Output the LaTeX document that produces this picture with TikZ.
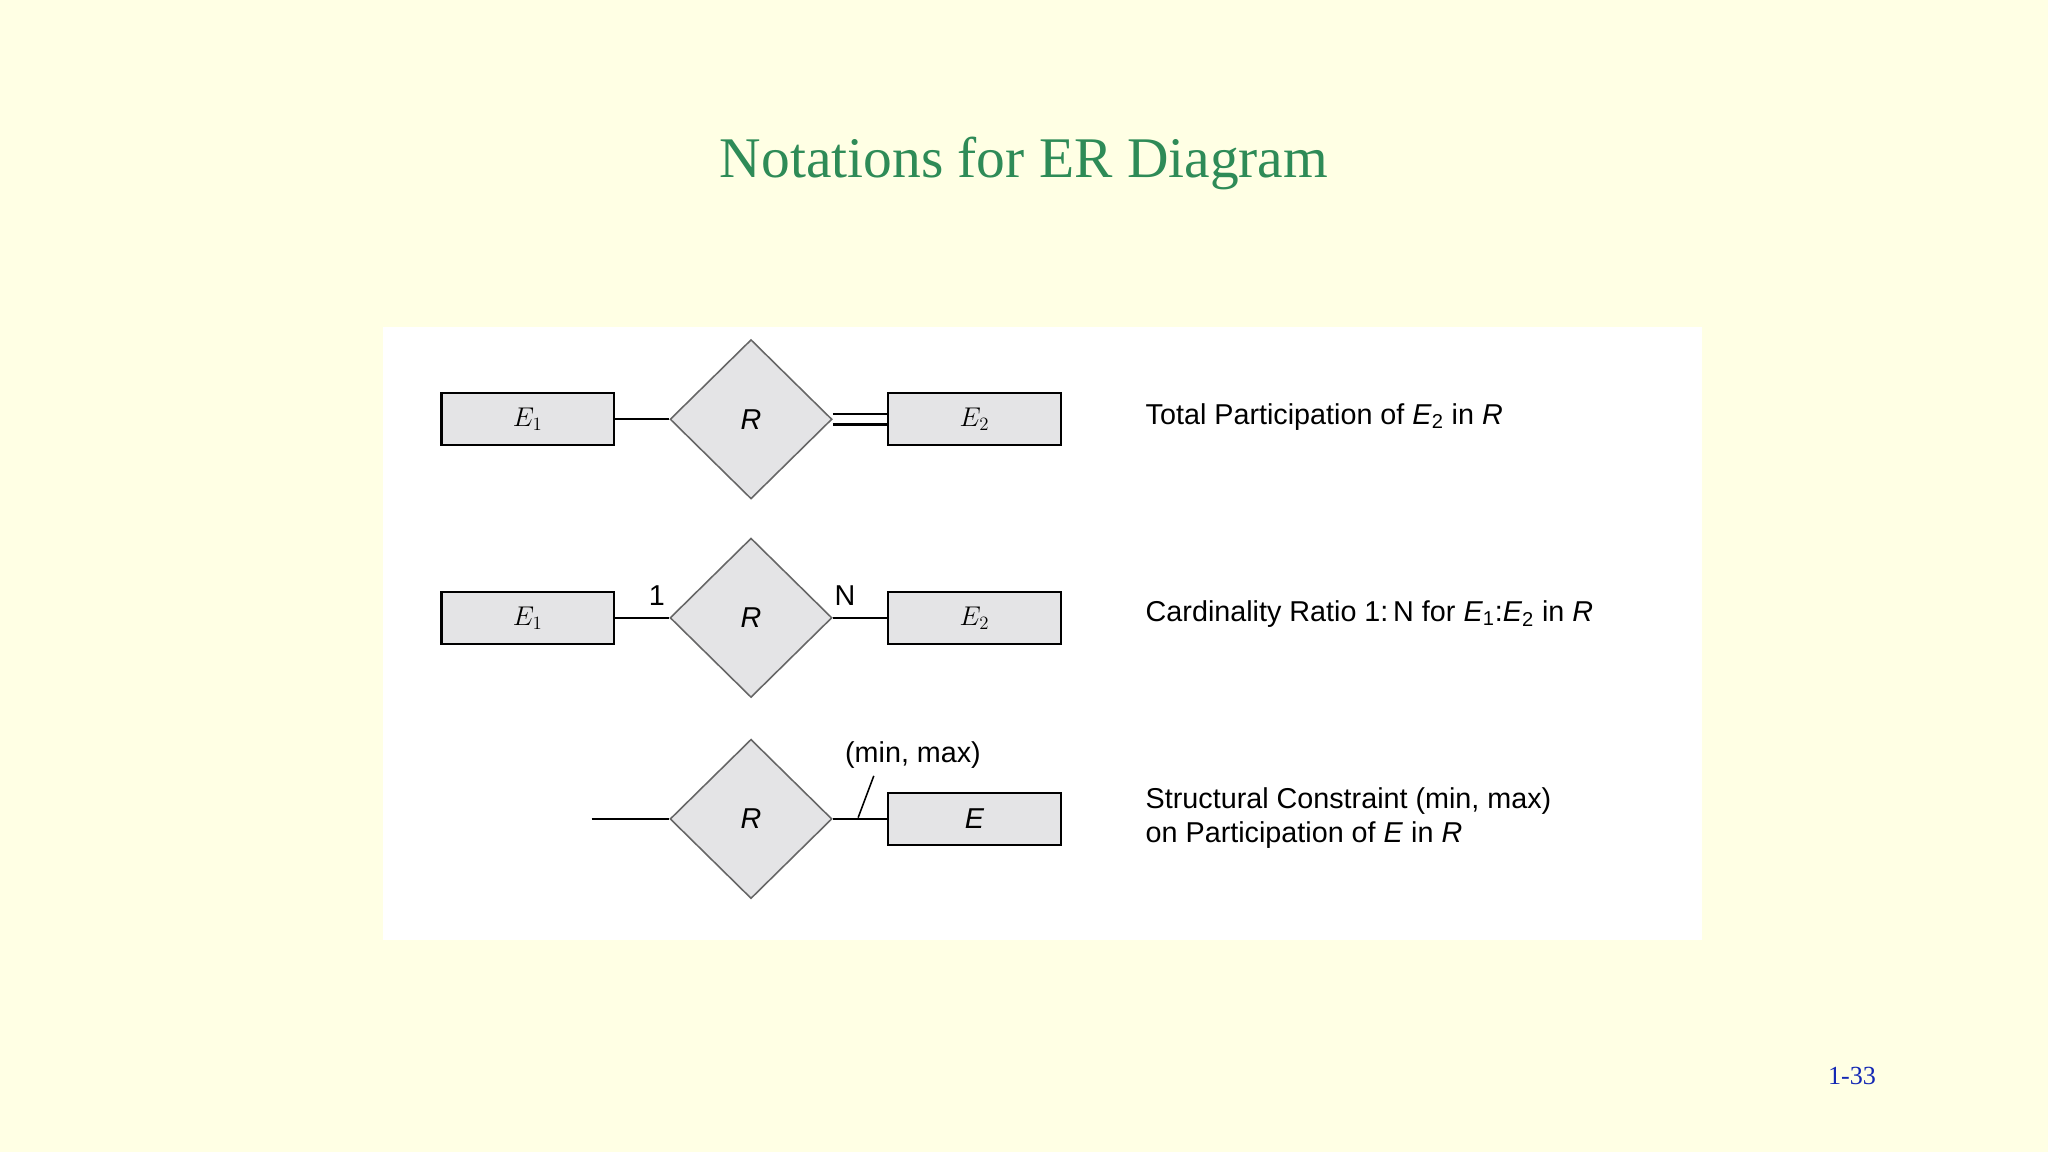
\documentclass[tikz,border=0pt]{standalone}
\usepackage{fontspec}
\setmainfont{Liberation Serif}
\newfontfamily\diagsans{Liberation Sans}
\usetikzlibrary{shapes.geometric}
\definecolor{bgy}{RGB}{255,255,228}
\definecolor{ttl}{RGB}{46,139,87}
\definecolor{boxg}{RGB}{228,228,230}
\definecolor{pnum}{RGB}{20,40,180}
\begin{document}
\begin{tikzpicture}[x=1pt,y=-1pt,
  ent/.style={draw,fill=boxg,line width=1.6pt,minimum width=132pt,minimum height=40pt,inner sep=0pt,font=\diagsans\fontsize{22}{24}\selectfont\itshape},
  rel/.style={draw=gray!80!black,fill=boxg,line width=1.2pt,diamond,minimum width=124pt,minimum height=122pt,inner sep=0pt,font=\diagsans\fontsize{22}{24}\selectfont\itshape},
  conn/.style={line width=1.6pt},
  lbl/.style={font=\diagsans\fontsize{22}{26}\selectfont,anchor=west,align=left,inner sep=0pt},
  small/.style={font=\diagsans\fontsize{22}{24}\selectfont,inner sep=0pt}]
\fill[bgy] (0,0) rectangle (1568,882);
\useasboundingbox (0,0) rectangle (1568,882);
\fill[white] (293,250) rectangle (1303,720);
\node[font=\fontsize{44}{50}\selectfont,text=ttl] (title) at (784,125) {Notations for ER Diagram};
\node[font=\fontsize{20}{24}\selectfont,text=pnum] (pg) at (1418,824) {1-33};
% row 1
\node[ent] (a1) at (404,321) {$E_1$};
\node[rel] (r1) at (575,321) {R};
\node[ent] (b1) at (746,321) {$E_2$};
\draw[conn] (a1.east) -- (r1.west);
\draw[conn] ([yshift=-4pt]r1.east) -- ([yshift=-4pt]b1.west);
\draw[conn] ([yshift=4pt]r1.east) -- ([yshift=4pt]b1.west);
\node[lbl] (t1) at (877,319) {Total Participation of \textit{E}\textsubscript{2} in \textit{R}};
% row 2
\node[ent] (a2) at (404,473) {$E_1$};
\node[rel] (r2) at (575,473) {R};
\node[ent] (b2) at (746,473) {$E_2$};
\draw[conn] (a2.east) -- (r2.west);
\draw[conn] (r2.east) -- (b2.west);
\node[small] (one) at (503,456) {1};
\node[small] (n) at (647,456) {N};
\node[lbl] (t2) at (877,470) {Cardinality Ratio 1:\,N for \textit{E}\textsubscript{1}:\textit{E}\textsubscript{2} in \textit{R}};
% row 3
\coordinate (free) at (453,627);
\node[rel] (r3) at (575,627) {R};
\node[ent] (e3) at (746,627) {E};
\draw[conn] (free) -- (r3.west);
\draw[conn] (r3.east) -- (e3.west);
\node[small] (mm) at (699,578) {(min, max)};
\coordinate (s1) at (657,626);
\coordinate (s2) at (669,594);
\draw[line width=1.2pt] (s1) -- (s2);
\node[lbl] (t3) at (877,626) {Structural Constraint (min, max)\\on Participation of \textit{E} in \textit{R}};
\end{tikzpicture}
\end{document}
